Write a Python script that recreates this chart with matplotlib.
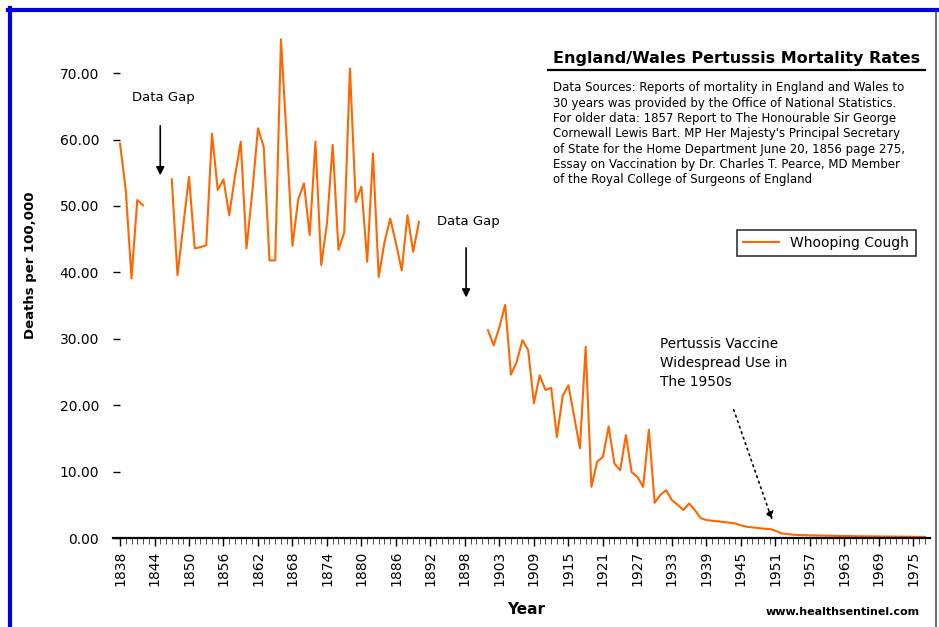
# England/Wales pertussis mortality - line chart on a category axis
import numpy as np
import matplotlib
matplotlib.use('Agg')
import matplotlib.pyplot as plt
from matplotlib.lines import Line2D

# deaths per 100,000, by category slot (gaps = missing data)
early = [59.4, 52.4, 39.1, 50.9, 50.1]                       # slots 0-4
middle = [54.0, 39.6, 47.0, 54.4, 43.6, 43.8, 44.1, 60.9, 52.4, 54.0,
          48.6, 54.5, 59.7, 43.6, 52.0, 61.7, 58.9, 41.8, 41.8, 75.1,
          60.0, 44.0, 51.0, 53.4, 45.6, 59.7, 41.1, 47.4, 59.2, 43.4,
          46.0, 70.7, 50.6, 52.9, 41.6, 57.9, 39.3, 44.5, 48.1, 44.4,
          40.3, 48.6, 43.1, 47.6]                            # slots 9-52
late = [31.3, 29.0, 31.8, 35.1, 24.6, 26.5, 29.8, 28.3, 20.3, 24.5,
        22.3, 22.6, 15.2, 21.4, 23.0, 18.3, 13.5, 28.8, 7.7, 11.5,
        12.2, 16.8, 11.2, 10.2, 15.5, 9.9, 9.2, 7.7, 16.3, 5.3,
        6.5, 7.2, 5.7, 5.0, 4.2, 5.2, 4.2, 3.0, 2.7, 2.6,
        2.5, 2.4, 2.3, 2.2, 1.9, 1.7, 1.6, 1.5, 1.4, 1.35,
        1.1, 0.7, 0.6, 0.5, 0.45, 0.42, 0.40, 0.38, 0.36, 0.35,
        0.33, 0.32, 0.30, 0.28, 0.27, 0.26, 0.25, 0.24, 0.23, 0.22,
        0.21, 0.20, 0.20, 0.19, 0.18, 0.18, 0.17]            # slots 64-140

year_labels = ['1838', '1844', '1850', '1856', '1862', '1868', '1874', '1880',
               '1886', '1892', '1898', '1903', '1909', '1915', '1921', '1927',
               '1933', '1939', '1945', '1951', '1957', '1963', '1969', '1975']

y_ticks = [0, 10, 20, 30, 40, 50, 60, 70]

source_lines = [
    "Data Sources: Reports of mortality in England and Wales to",
    "30 years was provided by the Office of National Statistics.",
    "For older data: 1857 Report to The Honourable Sir George",
    "Cornewall Lewis Bart. MP Her Majesty's Principal Secretary",
    "of State for the Home Department June 20, 1856 page 275,",
    "Essay on Vaccination by Dr. Charles T. Pearce, MD Member",
    "of the Royal College of Surgeons of England",
]

# build the full series with gaps
deaths = [*early] + [np.nan] * 4 + [*middle] + [np.nan] * 11 + [*late]
x = np.arange(len(deaths))

W, H = 939, 627
fig = plt.figure(figsize=(W / 100, H / 100), dpi=100)

def fx(px):
    return px / W

def fy(py):
    return 1 - py / H

ax = fig.add_axes([fx(113), fy(538), (930 - 113) / W, (538 - 30) / H])
ax.plot(x, deaths, color='#ff6600', lw=1.5, label='Whooping Cough')

ax.set_xlim(-1.22, 140.9)
ax.set_ylim(0, 76.5)

# axes styling, excel-ish
for s in ['top', 'right', 'left']:
    ax.spines[s].set_visible(False)
ax.spines['bottom'].set_linewidth(1.6)

ax.set_xticks(np.arange(len(year_labels)) * 6)
ax.set_xticklabels(year_labels, rotation=90, fontsize=10)
ax.set_xticks(x, minor=True)
ax.tick_params(axis='x', which='major', direction='out', length=6, width=1, pad=3)
ax.tick_params(axis='x', which='minor', direction='out', length=4, width=0.5)

ax.set_yticks(y_ticks)
ax.set_yticklabels(['%.2f' % v for v in y_ticks], fontsize=10)
ax.tick_params(axis='y', direction='in', length=5, width=1, pad=10)

# axis titles and site credit
fig.text(fx(31), fy(265), 'Deaths per 100,000', rotation=90, fontsize=9.5,
         fontweight='bold', ha='center', va='center')
fig.text(fx(526), fy(610), 'Year', fontsize=11, fontweight='bold',
         ha='center', va='center')
fig.text(fx(920), fy(612), 'www.healthsentinel.com', fontsize=8,
         fontweight='bold', ha='right', va='center')

# legend
leg = ax.legend(loc='center', bbox_to_anchor=(0.873, 0.581), frameon=True,
                fancybox=False, fontsize=10, handlelength=2.6,
                borderpad=0.45, edgecolor='black')
leg.get_frame().set_linewidth(1.2)

# title block
fig.text(fx(737), fy(58), 'England/Wales Pertussis Mortality Rates',
         fontsize=11.5, fontweight='bold', ha='center', va='center')
fig.add_artist(Line2D([fx(548), fx(925)], [fy(70), fy(70)], color='black', lw=1.6,
                      transform=fig.transFigure))
for k, line in enumerate(source_lines):
    fig.text(fx(553), fy(88 + k * 15.3), line, fontsize=8.5, ha='left', va='center')

# annotations
ax.text(2.1, 66.4, 'Data Gap', fontsize=9.5, va='center', ha='left')
ax.annotate('', xy=(7, 54.2), xytext=(7, 62.5),
            arrowprops=dict(arrowstyle='-|>', color='black', lw=1.2, mutation_scale=12))
ax.text(55.1, 47.6, 'Data Gap', fontsize=9.5, va='center', ha='left')
ax.annotate('', xy=(60.2, 35.8), xytext=(60.2, 44.1),
            arrowprops=dict(arrowstyle='-|>', color='black', lw=1.2, mutation_scale=12))
ax.text(93.9, 30.3, 'Pertussis Vaccine\nWidespread Use in\nThe 1950s', fontsize=9.8,
        va='top', ha='left', linespacing=1.45)
ax.annotate('', xy=(113.6, 2.3), xytext=(106.6, 19.7),
            arrowprops=dict(arrowstyle='-|>', color='black', lw=1.2,
                            linestyle=(0, (1, 2.5)), mutation_scale=12))

# outer frame
fig.add_artist(Line2D([fx(10), fx(10)], [fy(8), 0], color='#0000e0', lw=3,
                      transform=fig.transFigure))
fig.add_artist(Line2D([fx(8), 1], [fy(10), fy(10)], color='#0000e0', lw=3,
                      transform=fig.transFigure))
fig.add_artist(Line2D([fx(936), fx(936)], [fy(12), 0], color='#555555', lw=1.2,
                      transform=fig.transFigure))

fig.savefig('out.png', dpi=100)
